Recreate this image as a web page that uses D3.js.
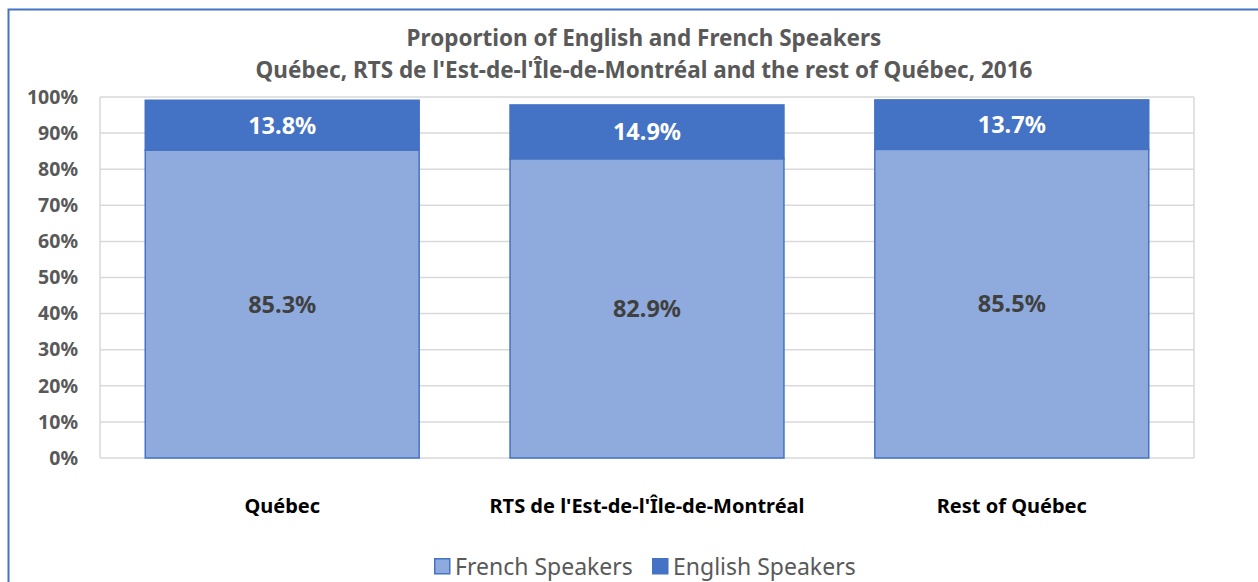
<!DOCTYPE html>
<html><head><meta charset="utf-8">
<script src="https://cdn.jsdelivr.net/npm/d3@7"></script>
<style>body{margin:0;background:#fff}svg{display:block}</style>
</head><body>
<svg id="c" width="1258" height="582"></svg>
<script>
const categories = ["Québec", "RTS de l'Est-de-l'Île-de-Montréal", "Rest of Québec"];
const french = [85.3, 82.9, 85.5];
const english = [13.8, 14.9, 13.7];
const seriesNames = ["French Speakers", "English Speakers"];
const yTicks = [0,10,20,30,40,50,60,70,80,90,100];
const titleLines = ["Proportion of English and French Speakers", "Québec, RTS de l'Est-de-l'Île-de-Montréal and the rest of Québec, 2016"];

const svg = d3.select("#c");
const F = "'Noto Sans', 'Open Sans', sans-serif";
const colFr = "#8faadc", colEn = "#4472c4";

svg.append("rect").attr("x",8.5).attr("y",9.5).attr("width",1300).attr("height",700)
  .attr("fill","#fff").attr("stroke","#4472c4").attr("stroke-width",2);

const m = {l:100, r:1194, t:97, b:458};
const x = d3.scaleBand().domain(categories).range([m.l, m.r]).paddingInner(0.245).paddingOuter(0.122);
const y = d3.scaleLinear().domain([0,100]).range([m.b, m.t]);

// gridlines
svg.append("g").selectAll("line").data(yTicks).join("line")
  .attr("x1", m.l).attr("x2", m.r).attr("y1", d=>y(d)).attr("y2", d=>y(d))
  .attr("stroke","#d9d9d9").attr("stroke-width",1.5);
svg.append("line").attr("x1",m.l).attr("x2",m.l).attr("y1",m.t).attr("y2",m.b).attr("stroke","#d9d9d9").attr("stroke-width",1.5);
svg.append("line").attr("x1",m.r).attr("x2",m.r).attr("y1",m.t).attr("y2",m.b).attr("stroke","#d9d9d9").attr("stroke-width",1.5);

// y axis
const yAxis = d3.axisLeft(y).tickValues(yTicks).tickFormat(d=>d+"%").tickSize(0).tickPadding(22);
const ga = svg.append("g").attr("transform",`translate(${m.l},0)`).call(yAxis);
ga.select(".domain").remove();
ga.selectAll("text").attr("font-family",F).attr("font-size",19.5).attr("font-weight","bold").attr("fill","#595959");

// bars
const data = categories.map((c,i)=>({c, fr:french[i], en:english[i]}));
const g = svg.append("g");
g.selectAll("rect.fr").data(data).join("rect")
  .attr("x", d=>x(d.c)+0.75).attr("width", x.bandwidth()-1.5)
  .attr("y", d=>y(d.fr)).attr("height", d=>y(0)-y(d.fr))
  .attr("fill", colFr).attr("stroke", colEn).attr("stroke-width",1.5);
g.selectAll("rect.en").data(data).join("rect")
  .attr("x", d=>x(d.c)+0.75).attr("width", x.bandwidth()-1.5)
  .attr("y", d=>y(d.fr+d.en)).attr("height", d=>y(d.fr)-y(d.fr+d.en))
  .attr("fill", colEn).attr("stroke", colEn).attr("stroke-width",1.5);

g.selectAll("text.fr").data(data).join("text")
  .attr("x", d=>x(d.c)+x.bandwidth()/2).attr("y", d=>y(d.fr/2)+8.5)
  .attr("text-anchor","middle").attr("font-family",F).attr("font-size",23.5).attr("font-weight","bold")
  .attr("fill","#404040").text(d=>d.fr.toFixed(1)+"%");
g.selectAll("text.en").data(data).join("text")
  .attr("x", d=>x(d.c)+x.bandwidth()/2).attr("y", d=>y(d.fr+d.en/2)+8.5)
  .attr("text-anchor","middle").attr("font-family",F).attr("font-size",23.5).attr("font-weight","bold")
  .attr("fill","#fff").text(d=>d.en.toFixed(1)+"%");

// category labels
svg.append("g").selectAll("text").data(categories).join("text")
  .attr("x", d=>x(d)+x.bandwidth()/2).attr("y", 513)
  .attr("text-anchor","middle").attr("font-family",F).attr("font-size",20).attr("font-weight","bold")
  .attr("fill","#000").text(d=>d);

// title
svg.append("g").selectAll("text").data(titleLines).join("text")
  .attr("x", 644).attr("y",(d,i)=>46+i*32)
  .attr("text-anchor","middle").attr("font-family",F).attr("font-size",22.5).attr("font-weight","bold")
  .attr("fill","#595959").text(d=>d);

// legend
const lx = [434, 652];
const lg = svg.append("g").selectAll("g").data(seriesNames).join("g")
  .attr("transform",(d,i)=>`translate(${lx[i]},558)`);
lg.append("rect").attr("x",0.75).attr("y",0.75).attr("width",15).attr("height",15)
  .attr("fill",(d,i)=>i===0?colFr:colEn).attr("stroke",colEn).attr("stroke-width",1.5);
lg.append("text").attr("x",21).attr("y",16.5).attr("font-family",F).attr("font-size",23)
  .attr("fill","#595959").text(d=>d);
</script>
</body></html>
